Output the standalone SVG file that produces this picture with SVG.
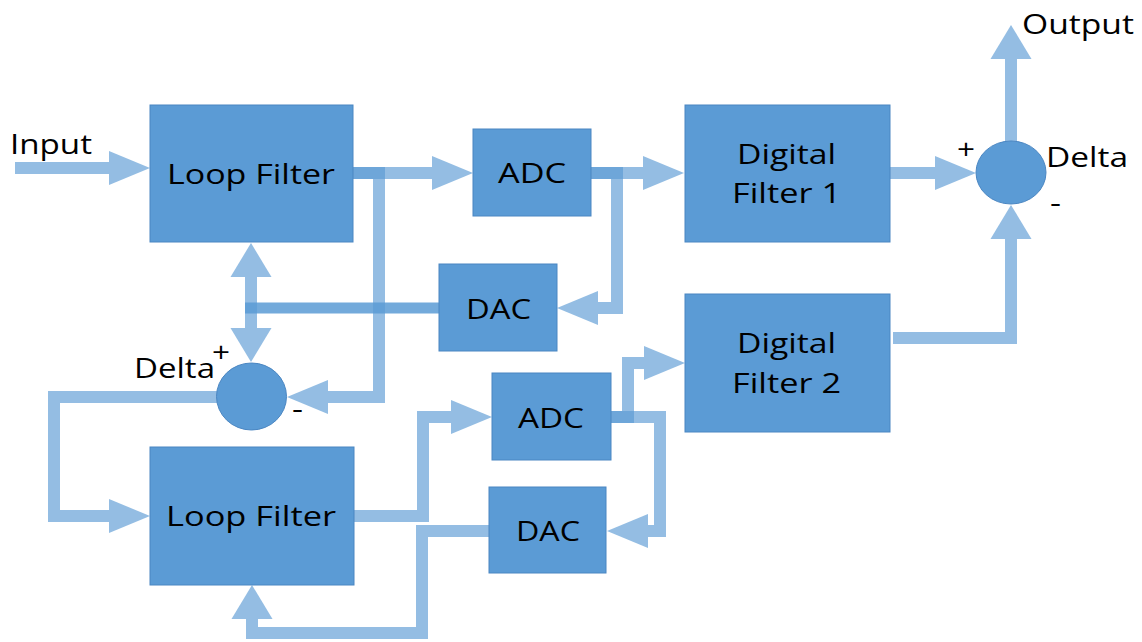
<svg xmlns="http://www.w3.org/2000/svg" width="1142" height="642" viewBox="0 0 1142 642">
<style>
.box{fill:#5B9BD5;stroke:#4A86C2;stroke-width:1}
.sum{fill:#5B9BD5;stroke:#4A86C2;stroke-width:1}
.t{font-family:"Open Sans","Noto Sans","DejaVu Sans",sans-serif;font-size:28px;fill:#000}
.c{opacity:0.65}
.c polyline,.c line{fill:none;stroke:#5B9BD5;stroke-width:12;stroke-linejoin:miter}
.dark line{fill:none;stroke:#5B9BD5;stroke-width:11}
</style>
<defs>
<marker id="ah" markerUnits="userSpaceOnUse" markerWidth="41" markerHeight="34" refX="0" refY="17" orient="auto-start-reverse" overflow="visible"><path d="M0,0 L41,17 L0,34 Z" fill="#5B9BD5"/></marker>
<marker id="av" markerUnits="userSpaceOnUse" markerWidth="34" markerHeight="41" refX="0" refY="20.5" orient="auto-start-reverse" overflow="visible"><path d="M0,0 L34,20.5 L0,41 Z" fill="#5B9BD5"/></marker>
</defs>
<g id="connectors">
<g class="c"><line x1="15" y1="168" x2="109" y2="168" marker-end="url(#ah)"/></g>
<g class="c"><line x1="353" y1="173" x2="432" y2="173" marker-end="url(#ah)"/></g>
<g class="c"><polyline points="353,173 379,173 379,397 328,397" marker-end="url(#ah)"/></g>
<g class="c"><line x1="591" y1="173" x2="643" y2="173" marker-end="url(#ah)"/></g>
<g class="c"><polyline points="591,173 617,173 617,308 598,308" marker-end="url(#ah)"/></g>
<g class="c dark" style="opacity:0.85"><line x1="439" y1="308" x2="245" y2="308"/></g>
<g class="c"><line x1="251" y1="277" x2="251" y2="328" marker-start="url(#av)" marker-end="url(#av)"/></g>
<g class="c"><polyline points="217,397 54,397 54,516 109,516" marker-end="url(#ah)"/></g>
<g class="c"><polyline points="354,516 423,516 423,417 451,417" marker-end="url(#ah)"/></g>
<g class="c"><polyline points="611,417 660,417 660,531 648,531" marker-end="url(#ah)"/></g>
<g class="c"><polyline points="611,417 628,417 628,363 644,363" marker-end="url(#ah)"/></g>
<g class="c"><polyline points="489,531 422,531 422,633 252,633 252,619" marker-end="url(#av)"/></g>
<g class="c"><line x1="890" y1="173" x2="935" y2="173" marker-end="url(#ah)"/></g>
<g class="c"><line x1="1011" y1="141" x2="1011" y2="59" marker-end="url(#av)"/></g>
<g class="c"><polyline points="893,338 1011,338 1011,239" marker-end="url(#av)"/></g>
</g>
<g id="input-label"><text class="t" x="10" y="154" font-size="27" textLength="82" lengthAdjust="spacingAndGlyphs">Input</text></g>
<g id="output-label"><text class="t" x="1022" y="34" textLength="112" lengthAdjust="spacingAndGlyphs">Output</text></g>
<g id="loop-filter-1"><rect class="box" x="150" y="105" width="203" height="137"/><text class="t" x="167" y="184" textLength="168" lengthAdjust="spacingAndGlyphs">Loop Filter</text></g>
<g id="adc-1"><rect class="box" x="473" y="129" width="118" height="87"/><text class="t" x="498" y="183" textLength="68" lengthAdjust="spacingAndGlyphs">ADC</text></g>
<g id="dac-1"><rect class="box" x="439" y="264" width="118" height="87"/><text class="t" x="466" y="319" textLength="65" lengthAdjust="spacingAndGlyphs">DAC</text></g>
<g id="digital-filter-1"><rect class="box" x="685" y="105" width="205" height="137"/><text class="t" x="737" y="164" textLength="99" lengthAdjust="spacingAndGlyphs">Digital</text><text class="t" x="732" y="203" textLength="109" lengthAdjust="spacingAndGlyphs">Filter 1</text></g>
<g id="digital-filter-2"><rect class="box" x="685" y="294" width="205" height="138"/><text class="t" x="737" y="353" textLength="99" lengthAdjust="spacingAndGlyphs">Digital</text><text class="t" x="732" y="393" textLength="109" lengthAdjust="spacingAndGlyphs">Filter 2</text></g>
<g id="loop-filter-2"><rect class="box" x="150" y="447" width="204" height="138"/><text class="t" x="166" y="526" textLength="170" lengthAdjust="spacingAndGlyphs">Loop Filter</text></g>
<g id="adc-2"><rect class="box" x="492" y="373" width="119" height="87"/><text class="t" x="518" y="428" textLength="66" lengthAdjust="spacingAndGlyphs">ADC</text></g>
<g id="dac-2"><rect class="box" x="489" y="487" width="117" height="86"/><text class="t" x="516" y="541" textLength="64" lengthAdjust="spacingAndGlyphs">DAC</text></g>
<g id="delta-1"><ellipse class="sum" cx="251.5" cy="396.5" rx="35" ry="33.5"/><text class="t" x="134" y="378" textLength="81" lengthAdjust="spacingAndGlyphs">Delta</text><text class="t" x="212" y="362" font-size="26" textLength="18" lengthAdjust="spacingAndGlyphs">+</text><text class="t" x="292" y="418" font-size="26" textLength="11" lengthAdjust="spacingAndGlyphs">-</text></g>
<g id="delta-2"><ellipse class="sum" cx="1011" cy="172.5" rx="35" ry="31.5"/><text class="t" x="1046" y="167" textLength="82" lengthAdjust="spacingAndGlyphs">Delta</text><text class="t" x="957" y="159" font-size="26" textLength="18" lengthAdjust="spacingAndGlyphs">+</text><text class="t" x="1050" y="212" font-size="26" textLength="11" lengthAdjust="spacingAndGlyphs">-</text></g>
</svg>
